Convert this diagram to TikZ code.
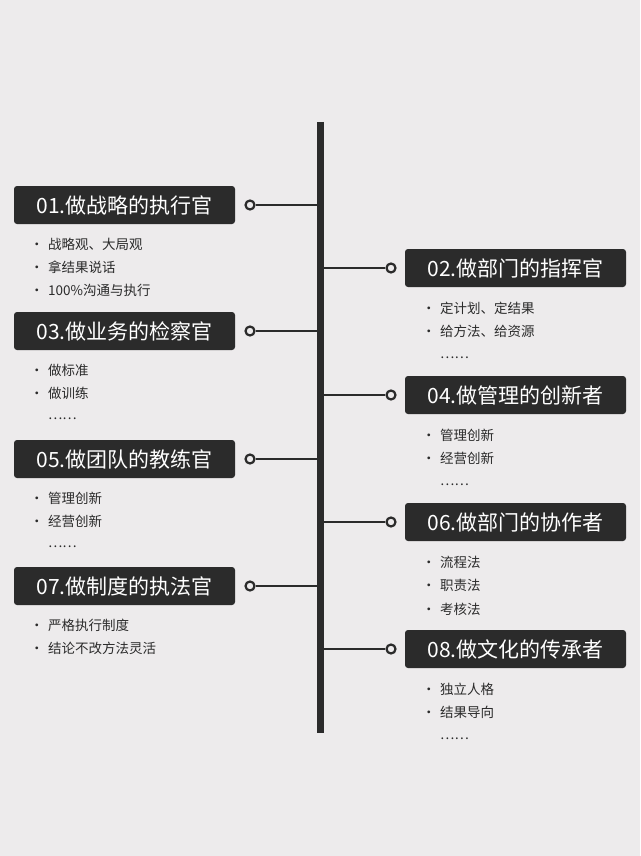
\documentclass[tikz,border=0pt]{standalone}
\usepackage{fontspec}
\setmainfont{Noto Sans CJK SC}
\definecolor{bg}{HTML}{EDEBEC}
\definecolor{dk}{HTML}{2B2B2B}
\begin{document}
\begin{tikzpicture}[x=1pt,y=-1pt,
  title/.style={fill=dk,text=white,rounded corners=3pt,minimum width=221pt,minimum height=38pt,inner sep=0pt,font=\fontsize{21}{24}\selectfont},
  dot/.style={circle,draw=dk,line width=2.2pt,fill=bg,inner sep=0pt,minimum size=9pt},
  conn/.style={draw=dk,line width=2.5pt},
  item/.style={anchor=west,inner sep=0pt,text=dk,font=\fontsize{13.5}{16}\selectfont}]
\fill[bg] (0,0) rectangle (640,856);
\coordinate (top) at (320,122); \coordinate (bot) at (320,733);
\draw[dk,line width=7pt] (top) -- (bot);
\newcommand\lbox[4]{%
  \node[title] (#1) at (124.5,#2) {#3};
  \node[dot] (#1d) at (250,#2) {};
  \coordinate (#1s) at (320,#2);
  \draw[conn] (#1d) -- (#1s);
  \foreach \t [count=\i] in {#4} {\node[item] at (30,{#2+39+(\i-1)*23}) {\t};}}
\newcommand\rbox[4]{%
  \node[title] (#1) at (515.5,#2) {#3};
  \node[dot] (#1d) at (391,#2) {};
  \coordinate (#1s) at (320,#2);
  \draw[conn] (#1s) -- (#1d);
  \foreach \t [count=\i] in {#4} {\node[item] at (422,{#2+40+(\i-1)*23.5}) {\t};}}
\lbox{a}{205}{01.做战略的执行官}{•\,\,战略观、大局观,•\,\,拿结果说话,•\,\,100\%沟通与执行}
\lbox{c}{331}{03.做业务的检察官}{•\,\,做标准,•\,\,做训练,\phantom{•\,\,}……}
\lbox{e}{459}{05.做团队的教练官}{•\,\,管理创新,•\,\,经营创新,\phantom{•\,\,}……}
\lbox{g}{586}{07.做制度的执法官}{•\,\,严格执行制度,•\,\,结论不改方法灵活}
\rbox{b}{268}{02.做部门的指挥官}{•\,\,定计划、定结果,•\,\,给方法、给资源,\phantom{•\,\,}……}
\rbox{d}{395}{04.做管理的创新者}{•\,\,管理创新,•\,\,经营创新,\phantom{•\,\,}……}
\rbox{f}{522}{06.做部门的协作者}{•\,\,流程法,•\,\,职责法,•\,\,考核法}
\rbox{h}{649}{08.做文化的传承者}{•\,\,独立人格,•\,\,结果导向,\phantom{•\,\,}……}
\end{tikzpicture}
\end{document}
